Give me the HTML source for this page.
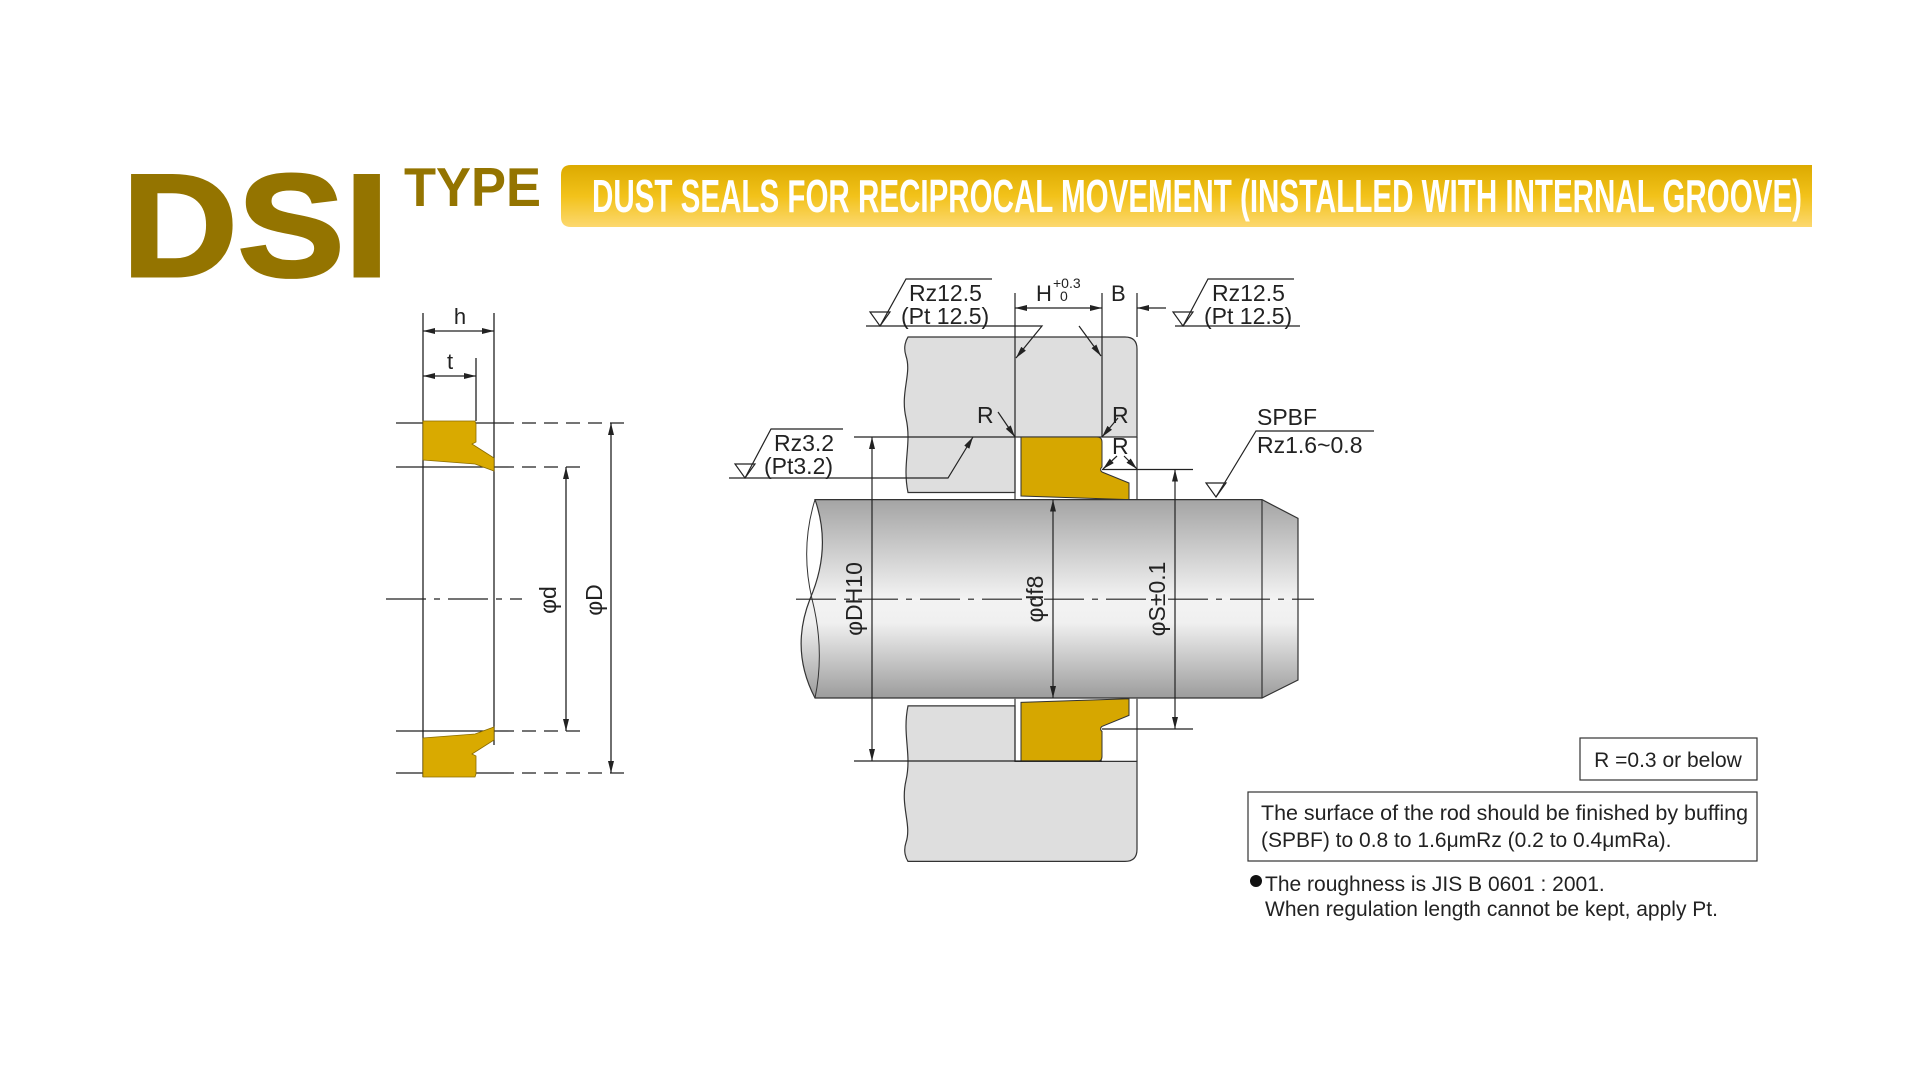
<!DOCTYPE html>
<html><head><meta charset="utf-8"><style>
html,body{margin:0;padding:0;background:#fff;width:1920px;height:1080px;overflow:hidden}
svg{display:block}
text{font-family:"Liberation Sans",Arial,sans-serif;fill:#222}
</style></head><body>
<svg width="1920" height="1080" viewBox="0 0 1920 1080" xmlns="http://www.w3.org/2000/svg">
<defs>
<linearGradient id="ban" x1="0" y1="0" x2="0" y2="1">
<stop offset="0" stop-color="#dcaa00"/><stop offset="0.5" stop-color="#f2c21a"/><stop offset="1" stop-color="#fcd870"/></linearGradient>
<linearGradient id="rod" x1="0" y1="0" x2="0" y2="1">
<stop offset="0" stop-color="#a4a4a4"/><stop offset="0.5" stop-color="#f3f3f3"/><stop offset="0.62" stop-color="#f0f0f0"/><stop offset="1" stop-color="#9c9c9c"/></linearGradient>
<marker id="ar" viewBox="0 0 12 6" refX="12" refY="3" markerWidth="12" markerHeight="6" orient="auto-start-reverse" markerUnits="userSpaceOnUse"><path d="M0,0 L12,3 L0,6 z" fill="#222"/></marker>
</defs>

<!-- Title -->
<text x="122" y="276" font-size="146" font-weight="bold" style="fill:#947400;stroke:#947400;stroke-width:3" textLength="267" lengthAdjust="spacingAndGlyphs">DSI</text>
<text x="404" y="206" font-size="55" font-weight="bold" style="fill:#947400" textLength="137" lengthAdjust="spacingAndGlyphs">TYPE</text>
<path d="M571,165 L1812,165 L1812,227 L571,227 Q561,227 561,217 L561,175 Q561,165 571,165 z" fill="url(#ban)"/>
<text x="592" y="212" font-size="46" font-weight="bold" style="fill:#fff" textLength="1210" lengthAdjust="spacingAndGlyphs">DUST SEALS FOR RECIPROCAL MOVEMENT (INSTALLED WITH INTERNAL GROOVE)</text>

<!-- Left seal drawing -->
<g stroke="#222" stroke-width="1.3" fill="none">
<line x1="423" y1="313" x2="423" y2="777"/>
<line x1="494" y1="313" x2="494" y2="745"/>
<line x1="476" y1="358" x2="476" y2="421"/>
<line x1="423" y1="331" x2="494" y2="331" marker-start="url(#ar)" marker-end="url(#ar)"/>
<line x1="423" y1="376" x2="476" y2="376" marker-start="url(#ar)" marker-end="url(#ar)"/>
<line x1="396" y1="423" x2="500" y2="423"/><line x1="500" y1="423" x2="629" y2="423" stroke-dasharray="14,8"/>
<line x1="396" y1="467" x2="500" y2="467"/><line x1="500" y1="467" x2="583" y2="467" stroke-dasharray="14,8"/>
<line x1="396" y1="731" x2="500" y2="731"/><line x1="500" y1="731" x2="583" y2="731" stroke-dasharray="14,8"/>
<line x1="396" y1="773" x2="500" y2="773"/><line x1="500" y1="773" x2="629" y2="773" stroke-dasharray="14,8"/>
<line x1="386" y1="599" x2="522" y2="599" stroke-dasharray="40,8,6,8"/>
<line x1="566" y1="467" x2="566" y2="731" marker-start="url(#ar)" marker-end="url(#ar)"/>
<line x1="611" y1="423" x2="611" y2="773" marker-start="url(#ar)" marker-end="url(#ar)"/>
</g>
<g fill="#d9aa00" stroke="#8a6c00" stroke-width="0.8">
<path d="M423,421 L475,421 L476,424 L476,442 L472,444 L494,458 L494,471 L475,464 L423,460 z"/>
<path d="M423,777 L475,777 L476,774 L476,756 L472,754 L494,740 L494,727 L475,734 L423,738 z"/>
</g>
<text x="460" y="324" font-size="22" text-anchor="middle">h</text>
<text x="450" y="369" font-size="22" text-anchor="middle">t</text>
<text transform="translate(556,600) rotate(-90)" font-size="23" text-anchor="middle">φd</text>
<text transform="translate(602,600) rotate(-90)" font-size="23" text-anchor="middle">φD</text>

<!-- Right drawing: housing -->
<g id="hs" stroke="#333" stroke-width="1.2">
<path d="M908,337 L1125,337 Q1137,337 1137,349 L1137,437 L1015,437 L1015,492.5 L908,492.5 C902,463 912,445 906,418 C900,392 912,374 906,356 C903,347 906,340 908,337 z" fill="#dedede"/>
<line x1="1015" y1="437" x2="1015" y2="499.6" fill="none"/>
<line x1="1137" y1="437" x2="1137" y2="499.6" fill="none"/>
<path d="M1021,437 L1097,437 Q1102,437 1102,442 L1102,467 A3,3 0 0 0 1102,472 L1129,483 L1129,499.6 L1021,496 z" fill="#d6a700" stroke-width="1"/>
</g>
<use href="#hs" transform="translate(0,1198.4) scale(1,-1)"/>

<!-- Rod -->
<path d="M815,499.6 L1262,499.6 L1298,518.4 L1298,680 L1262,698 L815,698 Q790,650 810,599 Q832,548 815,499.6 z" fill="url(#rod)" stroke="#333" stroke-width="1.2"/>
<path d="M815,499.6 Q800,548 812,599 Q825,650 815,698" fill="none" stroke="#333" stroke-width="1"/>
<line x1="1262" y1="499.6" x2="1262" y2="698" stroke="#333" stroke-width="1.2"/>

<!-- Dimensions right -->
<g stroke="#222" stroke-width="1.2" fill="none">
<line x1="796" y1="599.2" x2="1314" y2="599.2" stroke-dasharray="40,8,6,8"/>
<line x1="854" y1="437" x2="1015" y2="437"/>
<line x1="854" y1="761" x2="1102" y2="761"/>
<line x1="872" y1="437" x2="872" y2="761" marker-start="url(#ar)" marker-end="url(#ar)"/>
<line x1="1053" y1="499.6" x2="1053" y2="698" marker-start="url(#ar)" marker-end="url(#ar)"/>
<line x1="1102" y1="469.5" x2="1193" y2="469.5"/>
<line x1="1102" y1="729" x2="1193" y2="729"/>
<line x1="1175" y1="469.5" x2="1175" y2="729" marker-start="url(#ar)" marker-end="url(#ar)"/>
<line x1="1015" y1="293" x2="1015" y2="437"/>
<line x1="1102" y1="293" x2="1102" y2="437"/>
<line x1="1137" y1="293" x2="1137" y2="337"/>
<line x1="1015" y1="308" x2="1102" y2="308" marker-start="url(#ar)" marker-end="url(#ar)"/>
<line x1="1166" y1="308" x2="1137" y2="308" marker-end="url(#ar)"/>
<polyline points="866,326 1042,326 1016,358" marker-end="url(#ar)"/>
<path d="M870,312 L890,312 L880,326 z"/>
<polyline points="880,326 906,279 992,279"/>
<polyline points="1079,326 1101,356" marker-end="url(#ar)"/>
<polyline points="1175,326 1300,326"/>
<path d="M1173,312 L1193,312 L1183,326 z"/>
<polyline points="1183,326 1208,279 1294,279"/>
<polyline points="729,478 948,478 973,437" marker-end="url(#ar)"/>
<path d="M735,464 L755,464 L745,478 z"/>
<polyline points="745,478 771,429 843,429"/>
<polyline points="1374,431 1256,431 1216,497"/>
<path d="M1206,483 L1226,483 L1216,497 z"/>
<line x1="998" y1="412" x2="1015" y2="437" marker-end="url(#ar)"/>
<line x1="1118" y1="418" x2="1102" y2="437" marker-end="url(#ar)"/>
<line x1="1117" y1="456" x2="1103" y2="469" marker-end="url(#ar)"/>
<line x1="1124" y1="456" x2="1137" y2="469" marker-end="url(#ar)"/>
</g>
<text x="909" y="301" font-size="23">Rz12.5</text>
<text x="901" y="324" font-size="23">(Pt 12.5)</text>
<text x="1212" y="301" font-size="23">Rz12.5</text>
<text x="1204" y="324" font-size="23">(Pt 12.5)</text>
<text x="1036" y="301" font-size="22">H</text>
<text x="1053" y="288" font-size="14">+0.3</text>
<text x="1060" y="301" font-size="14">0</text>
<text x="1111" y="301" font-size="22">B</text>
<text x="774" y="451" font-size="23">Rz3.2</text>
<text x="764" y="474" font-size="23">(Pt3.2)</text>
<text x="977" y="423" font-size="23">R</text>
<text x="1112" y="423" font-size="23">R</text>
<text x="1112" y="454" font-size="23">R</text>
<text x="1257" y="425" font-size="23">SPBF</text>
<text x="1257" y="453" font-size="23">Rz1.6~0.8</text>
<text transform="translate(862,599) rotate(-90)" font-size="23" text-anchor="middle">φDH10</text>
<text transform="translate(1043,599) rotate(-90)" font-size="23" text-anchor="middle">φdf8</text>
<text transform="translate(1165,599) rotate(-90)" font-size="23" text-anchor="middle">φS±0.1</text>

<!-- Notes -->
<rect x="1580" y="738" width="177" height="42" fill="none" stroke="#333" stroke-width="1.2"/>
<text x="1668" y="767" font-size="21" text-anchor="middle">R =0.3 or below</text>
<rect x="1248" y="792" width="509" height="69" fill="none" stroke="#333" stroke-width="1.2"/>
<text x="1261" y="820" font-size="21" textLength="487" lengthAdjust="spacingAndGlyphs">The surface of the rod should be finished by buffing</text>
<text x="1261" y="847" font-size="21">(SPBF) to 0.8 to 1.6μmRz (0.2 to 0.4μmRa).</text>
<circle cx="1256" cy="881" r="6" fill="#111"/>
<text x="1265" y="891" font-size="21">The roughness is JIS B 0601 : 2001.</text>
<text x="1265" y="916" font-size="21">When regulation length cannot be kept, apply Pt.</text>
</svg>
</body></html>
